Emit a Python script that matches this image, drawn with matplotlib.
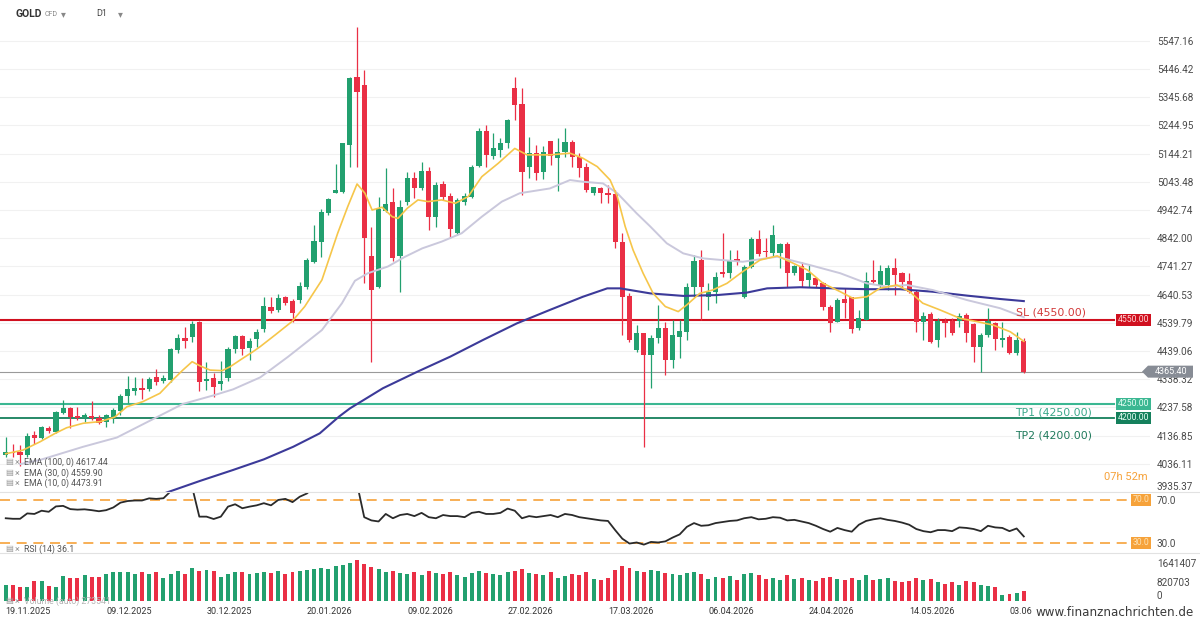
import numpy as np
import matplotlib
matplotlib.use("Agg")
import matplotlib.pyplot as plt
from matplotlib.transforms import blended_transform_factory as blend
from matplotlib.patches import Polygon
from matplotlib.lines import Line2D

plt.rcParams['font.family'] = ['Roboto', 'DejaVu Sans']

# daily candles, GOLD CFD
opens = [4067, 4080, 4077, 4068, 4138, 4130, 4165, 4151, 4219, 4234,
         4208, 4199, 4206, 4201, 4187, 4204, 4226, 4278, 4296, 4307,
         4302, 4345, 4332, 4336, 4443, 4485, 4490, 4543, 4331, 4342,
         4323, 4342, 4448, 4493, 4451, 4481, 4517, 4598, 4586, 4631,
         4619, 4622, 4667, 4758, 4830, 4934, 5005, 5009, 5175, 5419,
         5390, 4779, 4669, 4941, 4973, 4779, 4973, 5056, 5020, 5084,
         4919, 5036, 4993, 4862, 4973, 4991, 5100, 5226, 5136, 5157,
         5181, 5378, 5322, 5098, 5146, 5080, 5190, 5128, 5152, 5187,
         5131, 5098, 5003, 5020, 5003, 5000, 4830, 4636, 4443, 4502,
         4425, 4485, 4520, 4407, 4488, 4508, 4669, 4764, 4633, 4651,
         4723, 4717, 4767, 4633, 4741, 4839, 4798, 4788, 4788, 4820,
         4717, 4743, 4693, 4699, 4681, 4598, 4544, 4625, 4631, 4520,
         4550, 4693, 4675, 4675, 4735, 4717, 4689, 4649, 4542, 4570,
         4479, 4548, 4546, 4548, 4568, 4534, 4452, 4496, 4538, 4479,
         4490, 4433, 4476]
highs = [4131, 4107, 4103, 4145, 4155, 4171, 4172, 4226, 4264, 4240,
         4238, 4216, 4261, 4211, 4214, 4234, 4286, 4350, 4348, 4342,
         4345, 4374, 4353, 4449, 4500, 4524, 4548, 4548, 4401, 4360,
         4404, 4455, 4497, 4497, 4484, 4517, 4633, 4633, 4643, 4636,
         4624, 4687, 4770, 4889, 4945, 4985, 5107, 5184, 5417, 5596,
         5443, 4884, 4991, 5092, 5020, 4979, 5080, 5080, 5116, 5098,
         5044, 5048, 5003, 4985, 5003, 5104, 5235, 5247, 5217, 5199,
         5267, 5417, 5378, 5205, 5175, 5172, 5190, 5199, 5235, 5193,
         5146, 5110, 5026, 5026, 5032, 5014, 4862, 4648, 4532, 4502,
         4496, 4604, 4544, 4550, 4550, 4681, 4782, 4800, 4681, 4723,
         4860, 4800, 4800, 4747, 4845, 4872, 4842, 4889, 4824, 4830,
         4747, 4758, 4747, 4705, 4687, 4604, 4627, 4663, 4633, 4586,
         4723, 4764, 4746, 4746, 4770, 4723, 4717, 4657, 4580, 4580,
         4556, 4556, 4556, 4574, 4574, 4538, 4502, 4592, 4544, 4544,
         4496, 4508, 4484]
lows = [4062, 4062, 4028, 4060, 4107, 4125, 4145, 4147, 4214, 4163,
        4193, 4187, 4193, 4177, 4169, 4183, 4211, 4255, 4282, 4267,
        4298, 4318, 4324, 4330, 4431, 4449, 4473, 4298, 4300, 4274,
        4300, 4333, 4431, 4425, 4407, 4455, 4508, 4574, 4580, 4604,
        4544, 4612, 4660, 4752, 4775, 4925, 5003, 5005, 5098, 5098,
        4681, 4401, 4663, 4937, 4762, 4651, 4961, 4985, 5014, 4872,
        4884, 4979, 4842, 4854, 4961, 4985, 5095, 5098, 5124, 5131,
        5163, 5265, 4997, 5056, 5050, 5053, 5104, 5012, 5134, 5098,
        5062, 5008, 4997, 4967, 4969, 4806, 4496, 4473, 4437, 4097,
        4306, 4467, 4354, 4377, 4413, 4479, 4633, 4550, 4586, 4610,
        4705, 4699, 4746, 4627, 4735, 4779, 4776, 4776, 4735, 4669,
        4711, 4669, 4669, 4667, 4586, 4508, 4544, 4556, 4502, 4514,
        4550, 4681, 4663, 4657, 4639, 4663, 4648, 4508, 4478, 4467,
        4455, 4490, 4496, 4526, 4473, 4401, 4365, 4490, 4443, 4455,
        4428, 4425, 4362]
closes = [4077, 4075, 4067, 4135, 4127, 4166, 4153, 4222, 4234, 4205,
          4201, 4211, 4201, 4183, 4209, 4227, 4278, 4302, 4306, 4301,
          4338, 4330, 4341, 4445, 4485, 4476, 4534, 4330, 4338, 4310,
          4333, 4448, 4493, 4445, 4476, 4508, 4600, 4583, 4627, 4612,
          4576, 4672, 4763, 4832, 4937, 4981, 5014, 5181, 5413, 5366,
          4842, 4657, 4945, 4963, 4770, 4955, 5056, 5020, 5084, 4919,
          5032, 4988, 4874, 4979, 4993, 5095, 5226, 5140, 5163, 5184,
          5265, 5318, 5080, 5146, 5074, 5152, 5136, 5152, 5187, 5134,
          5092, 5014, 5024, 5003, 4998, 4830, 4633, 4479, 4502, 4425,
          4485, 4520, 4407, 4496, 4512, 4669, 4762, 4669, 4651, 4705,
          4714, 4764, 4761, 4741, 4839, 4786, 4793, 4854, 4821, 4717,
          4743, 4690, 4717, 4675, 4595, 4540, 4621, 4610, 4518, 4556,
          4690, 4686, 4726, 4735, 4711, 4685, 4651, 4542, 4565, 4473,
          4548, 4540, 4505, 4565, 4502, 4452, 4496, 4548, 4481, 4485,
          4431, 4478, 4365.40]

# volume in thousands
volume = [690, 690, 620, 620, 880, 880, 650, 600,
          1080, 1010, 980, 1120, 1050, 1050, 1150, 1240,
          1240, 1240, 1150, 1240, 1160, 1240, 980, 1160,
          1310, 1150, 1410, 1310, 1340, 1310, 1020, 1150, 1240, 1240,
          1150, 1200, 1240, 1200, 1280, 1150, 1240, 1300, 1340, 1380, 1420, 1380,
          1500, 1560, 1650, 1770, 1600, 1450, 1380,
          1240, 1300, 1200, 1150, 1240, 1100, 1280, 1200, 1150, 1240, 1100, 1050,
          1200, 1300, 1200, 1150, 1100, 1240,
          1300, 1380, 1200, 1150, 1100, 1240, 1000, 1080, 1150, 1100, 1240, 950, 900, 980,
          1340, 1500, 1420, 1300, 1240, 1350, 1280, 1200, 1150, 1100, 1200, 1240, 1150,
          950, 1050, 1000, 1080, 900, 1150, 1200, 1100, 950, 1000, 900, 1100, 950,
          1000, 900, 850, 1000, 1050, 950, 900, 1000, 900, 1100,
          900, 950, 1000, 850, 800, 850, 1000, 900, 950, 800, 750, 800, 700, 850, 800,
          700, 650, 600, 250, 300, 350, 420]

rsi = [53, 52.5, 52.5, 57.5, 57, 60, 59, 64, 64.5, 61.5,
       61, 61.3, 60.5, 59.5, 60.5, 63, 67.5, 69, 69.5, 69.5,
       71.5, 71, 71.6, 78, 80, 78, 82, 54.5, 54.5, 52.3,
       54.5, 63.8, 66, 62.3, 63.8, 65, 67, 65, 70, 71,
       68, 73, 76, 82, 85, 86, 86, 88, 90, 85,
       54, 51, 50, 57, 53, 56, 57, 55, 58, 54,
       53, 56, 55, 55, 54, 58, 59, 57, 57, 58,
       62, 60, 53, 55, 54, 55, 56, 54, 57, 56,
       54, 53, 52, 51, 50.5, 42, 34, 29.5, 30.5, 28.5,
       31, 30.5, 31.5, 35, 38, 45, 48.5, 46, 46.5, 48.5,
       49.5, 50.5, 51, 53, 54, 52, 52.5, 54, 53.5, 51,
       51.5, 50, 48.5, 46, 43, 40.5, 44, 42, 40.5, 47,
       50.5, 52, 53, 51.5, 50.5, 49, 47, 43, 41, 40,
       42, 42, 41, 44.5, 44, 43, 41, 46, 44.5, 44,
       41, 43.5, 36.1]

# moving averages read at points along the lines (x = candle number)
ema10_x = [0, 2.4, 4.8, 6.9, 8.5, 10.8, 13.2, 15.2, 16.9, 19.1,
           21.5, 23.3, 24.7, 26.0, 27.1, 28.5, 30.2, 31.3, 32.7, 34.5,
           35.5, 37.6, 39.9, 41.7, 44.1, 46.3, 47.7, 49.0, 50.1, 51.1,
           52.5, 53.9, 54.7, 56.0, 57.5, 58.9, 60.8, 62.7, 64.5, 66.4,
           68.7, 71.0, 72.7, 75.9, 78.7, 80.5, 82.5, 84.3, 85.3, 86.4,
           87.5, 88.9, 90.3, 92.0, 93.8, 95.0, 96.8, 98.6, 100.6, 102.8,
           105.2, 107.6, 109.4, 111.8, 114.0, 116.4, 118.2, 120.1, 121.9, 124.3,
           126.1, 127.9, 130.3, 133.1, 135.5, 137.7, 140.1, 142]
ema10_y = [4072, 4085, 4115, 4145, 4165, 4181, 4187, 4203, 4240, 4258,
           4288, 4336, 4371, 4401, 4386, 4371, 4369, 4383, 4407, 4437,
           4455, 4497, 4544, 4598, 4693, 4860, 4955, 5036, 5003, 4943,
           4953, 4919, 4913, 4949, 4979, 4973, 4979, 4967, 4991, 5062,
           5110, 5163, 5140, 5140, 5146, 5128, 5098, 5050, 4991, 4884,
           4800, 4717, 4645, 4598, 4580, 4604, 4645, 4657, 4681, 4723,
           4764, 4779, 4758, 4729, 4681, 4651, 4627, 4633, 4663, 4675,
           4651, 4610, 4586, 4556, 4544, 4532, 4508, 4473.91]
ema30_x = [2, 4.8, 10.8, 15.5, 20.1, 24.7, 28.9, 31.7, 35.5, 39.4,
           44.1, 46.9, 48.7, 50.5, 53.3, 55.7, 58.1, 60.8, 63.6, 66.4,
           69.2, 71.7, 75.9, 78.7, 80.5, 83.3, 85.3, 88.0, 89.9, 92.2,
           94.5, 97.3, 100.0, 102.8, 107.6, 112.2, 116.4, 120.1, 122.9, 125.7,
           129.3, 134.1, 138.7, 142]
ema30_y = [4035, 4050, 4097, 4130, 4190, 4250, 4280, 4302, 4345, 4419,
           4514, 4610, 4690, 4717, 4741, 4776, 4806, 4830, 4860, 4919,
           4973, 5003, 5020, 5050, 5044, 5038, 5003, 4931, 4884, 4824,
           4788, 4770, 4764, 4758, 4776, 4746, 4717, 4681, 4669, 4675,
           4657, 4621, 4592, 4559.90]
ema100_x = [18, 21.5, 27.1, 31.7, 36.0, 40.1, 43.8, 46.5, 48.0, 52.6, 57.4, 62.0,
            66.6, 71.3, 75.9, 80.5, 83.9, 85.7, 89.9, 94.5, 99.2, 103.4,
            106.2, 110.8, 115.4, 120.1, 124.7, 129.3, 134.1, 138.7, 142]
ema100_y = [3880, 3925, 3975, 4014, 4052, 4097, 4145, 4205, 4234, 4306, 4365, 4419,
            4479, 4538, 4586, 4633, 4663, 4663, 4645, 4636, 4639, 4648,
            4663, 4667, 4663, 4660, 4660, 4651, 4637, 4625, 4617.44]

price_ticks = [5547.16, 5446.42, 5345.68, 5244.95, 5144.21, 5043.48, 4942.74,
               4842.00, 4741.27, 4640.53, 4539.79, 4439.06, 4338.32, 4237.58,
               4136.85, 4036.11, 3935.37]
date_pos = [0, 14, 28, 42, 56, 70, 84, 98, 112, 126, 140]
date_labels = ['19.11.2025', '09.12.2025', '30.12.2025', '20.01.2026', '09.02.2026',
               '27.02.2026', '17.03.2026', '06.04.2026', '24.04.2026', '14.05.2026',
               '03.06']

last_price = 4365.40
sl_level, tp1_level, tp2_level = 4550.00, 4250.00, 4200.00

GREEN = '#22a06f'
RED = '#ea2f45'
ORANGE = '#f6a23a'

W, H = 1200, 624


def rect(top, bottom, left=0, right=1150):
    return [left / W, 1 - bottom / H, (right - left) / W, (bottom - top) / H]


fig = plt.figure(figsize=(12, 6.24), dpi=100)
ax = fig.add_axes(rect(25, 492))
ax_rsi = fig.add_axes(rect(492, 553), sharex=ax)
ax_vol = fig.add_axes(rect(553, 601), sharex=ax)

for a in (ax, ax_rsi, ax_vol):
    for s in a.spines.values():
        s.set_visible(False)
    a.yaxis.tick_right()
    a.tick_params(axis='y', length=0, pad=5, labelsize=7.2, labelcolor='#4a4a4a')
    a.tick_params(axis='x', bottom=False, labelbottom=False)

idx = np.arange(len(closes))
o = np.array(opens, dtype=float)
c = np.array(closes, dtype=float)
up = c >= o
cols = np.where(up, GREEN, RED)

# price panel
ax.set_yticks(price_ticks)
ax.set_yticklabels(['%.2f' % t for t in price_ticks])
ax.get_yticklabels()[-1].set_va('bottom')
ax.grid(axis='y', color='#f1f1f1', lw=0.8, zorder=0)

ax.axhline(sl_level, xmax=1114 / 1150, color='#d0101f', lw=1.5, zorder=1.5)
ax.axhline(tp1_level, xmax=1114 / 1150, color='#3bb792', lw=1.5, zorder=1.5)
ax.axhline(tp2_level, xmax=1114 / 1150, color='#15805c', lw=1.3, zorder=1.5)
ax.axhline(last_price, color='#9a9a9a', lw=0.8, zorder=1.5)

ax.vlines(idx, lows, highs, colors=cols, lw=0.9, zorder=2)
body = np.maximum(np.abs(c - o), 3)
ax.bar(idx, body, bottom=np.minimum(o, c), width=0.72, color=cols, lw=0, zorder=2.2)

ax.plot(ema100_x, ema100_y, color='#3c3a99', lw=1.5, zorder=3)
ax.plot(ema30_x, ema30_y, color='#cac8dc', lw=1.4, zorder=3)
ax.plot(ema10_x, ema10_y, color='#f6c64a', lw=1.2, zorder=3.1)

ax.set_xlim(-0.8, 159.6)
ax.set_ylim(3935.37, 5604)

tr = blend(ax.transAxes, ax.transData)
ax.annotate('SL (4550.00)', xy=(1016 / 1150, sl_level), xycoords=tr, xytext=(0, 2),
            textcoords='offset points', va='bottom', fontsize=7.8, color='#d23a3a',
            family='DejaVu Sans')
ax.annotate('TP1 (4250.00)', xy=(1015 / 1150, tp1_level), xycoords=tr, xytext=(0, -2.5),
            textcoords='offset points', va='top', fontsize=7.8, color='#3aa88a',
            family='DejaVu Sans')
ax.annotate('TP2 (4200.00)', xy=(1015 / 1150, tp2_level), xycoords=tr, xytext=(0, -13),
            textcoords='offset points', va='center', fontsize=7.8, color='#1f7a5c',
            family='DejaVu Sans')


def tag(a, y, text, face, tcolor):
    a.text(0.9995, y, text, transform=blend(a.transAxes, a.transData), ha='right',
           va='center', fontsize=6.2, color=tcolor, zorder=6, clip_on=False,
           bbox=dict(boxstyle='square,pad=0.22', fc=face, ec='none'))


tag(ax, sl_level, '%.2f' % sl_level, '#d0101f', '#ffd6d6')
tag(ax, tp1_level, '%.2f' % tp1_level, '#3bb792', '#e6fff5')
tag(ax, tp2_level, '%.2f' % tp2_level, '#15805c', '#e6fff5')

# current price marker on the axis
hh = 6 * (5604 - 3935.37) / 467
ftr = blend(fig.transFigure, ax.transData)
ax.add_patch(Polygon([(1142 / W, last_price), (1148 / W, last_price + hh),
                      (1193 / W, last_price + hh), (1193 / W, last_price - hh),
                      (1148 / W, last_price - hh)], closed=True, transform=ftr,
                     fc='#878c95', ec='none', clip_on=False, zorder=6))
ax.text(1171 / W, last_price, '%.2f' % last_price, transform=ftr, ha='center',
        va='center', fontsize=6.5, color='white', zorder=7, clip_on=False)

fig.text(1148 / W, 1 - 477 / H, '07h 52m', ha='right', va='center', fontsize=8,
         color=ORANGE)

# rsi panel
ax_rsi.plot(idx, rsi, color='#2a2a2a', lw=1.3, zorder=3)
ax_rsi.axhline(70, xmax=1128 / 1150, color=ORANGE, lw=1.2, dashes=(6, 4))
ax_rsi.axhline(30, xmax=1128 / 1150, color=ORANGE, lw=1.2, dashes=(6, 4))
ax_rsi.set_ylim(20.7, 77.4)
ax_rsi.set_yticks([70, 30])
ax_rsi.set_yticklabels(['70.0', '30.0'])
tag(ax_rsi, 70, '70.0', ORANGE, '#fde2b5')
tag(ax_rsi, 30, '30.0', ORANGE, '#fde2b5')

# volume panel
ax_vol.bar(idx, volume, width=0.55, color=cols, lw=0)
ax_vol.set_ylim(0, 2070)
ax_vol.set_yticks([1641.407, 820.703, 0])
ax_vol.set_yticklabels(['1641407', '820703', '0'])
ax_vol.get_yticklabels()[-1].set_va('bottom')

# separators between panels
for yy in (492, 553):
    fig.add_artist(Line2D([0, 1], [1 - yy / H, 1 - yy / H], transform=fig.transFigure,
                          color='#e2e2e2', lw=0.8))

# dates
dtr = blend(ax_vol.transData, fig.transFigure)
for p, lab in zip(date_pos, date_labels):
    ax_vol.text(p, 1 - 612 / H, lab, transform=dtr, ha='left', va='center',
                fontsize=6.5, color='#333', clip_on=False)

# header
fig.text(15 / W, 1 - 14 / H, 'GOLD', fontsize=7.5, fontweight='bold', color='#333',
         va='center')
fig.text(45 / W, 1 - 15 / H, 'CFD', fontsize=5, color='#888', va='center')
fig.text(61 / W, 1 - 14 / H, '▾', fontsize=7, color='#888', va='center')
fig.text(96 / W, 1 - 14 / H, 'D1', fontsize=6.5, color='#444', va='center')
fig.text(118 / W, 1 - 14 / H, '▾', fontsize=7, color='#888', va='center')

# indicator legends
legend_rows = [('EMA (100, 0) 4617.44', 462), ('EMA (30, 0) 4559.90', 473),
               ('EMA (10, 0) 4473.91', 483), ('RSI (14) 36.1', 549),
               ('Volume (auto) 273541', 601)]
for txt, yy in legend_rows:
    fig.text(5 / W, 1 - yy / H, '▤', fontsize=6, color='#9a9a9a', va='center')
    fig.text(15 / W, 1 - yy / H, '×', fontsize=6.5, color='#9a9a9a', va='center')
    fig.text(24 / W, 1 - yy / H, txt, fontsize=6.3,
             color='#555' if not txt.startswith('Volume') else '#b5b5b5', va='center')

fig.text(1036 / W, 1 - 612 / H, 'www.finanznachrichten.de', fontsize=8.6, color='#3a3a3a',
         va='center', family='DejaVu Sans',
         bbox=dict(boxstyle='square,pad=0.12', fc='white', ec='none'))

fig.savefig('out.png', dpi=100, facecolor='white')
